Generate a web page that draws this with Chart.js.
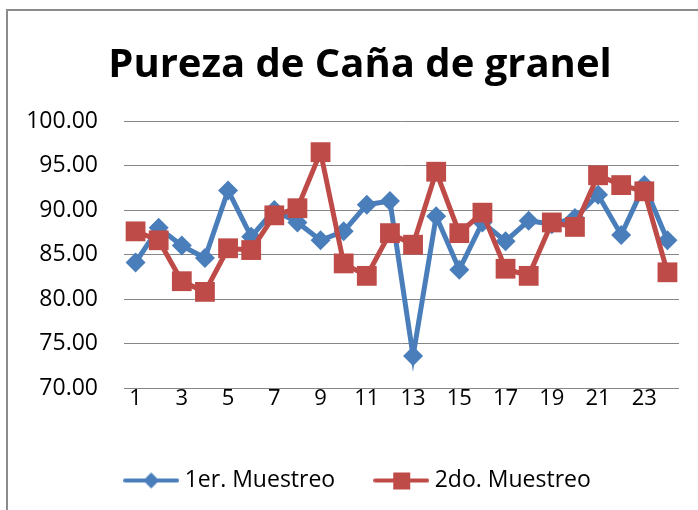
<!DOCTYPE html>
<html>
<head>
<meta charset="utf-8">
<script src="https://cdn.jsdelivr.net/npm/chart.js@4"></script>
<style>
  body { margin: 0; background: #fff; }
  #wrap { width: 698px; height: 510px; }
</style>
</head>
<body>
<div id="wrap"><canvas id="chart" width="698" height="510"></canvas></div>
<script>
const labels = ["1","2","3","4","5","6","7","8","9","10","11","12","13","14","15","16","17","18","19","20","21","22","23","24"];
const muestreo1 = [84.1, 88.0, 86.0, 84.6, 92.2, 87.0, 90.0, 88.6, 86.6, 87.6, 90.6, 91.0, 73.6, 89.3, 83.3, 88.6, 86.5, 88.8, 88.4, 89.1, 91.7, 87.2, 92.8, 86.6];
const muestreo2 = [87.6, 86.6, 82.0, 80.8, 85.7, 85.5, 89.4, 90.2, 96.5, 84.0, 82.6, 87.4, 86.1, 94.3, 87.4, 89.7, 83.4, 82.6, 88.6, 88.1, 93.9, 92.8, 92.1, 83.0];
const seriesNames = ["1er. Muestreo", "2do. Muestreo"];

const BLUE = "#4a7ebb";
const RED = "#be4b48";
const FONT = "'Open Sans', sans-serif";

// legend glyph: line with the marker in the middle
function legendGlyph(color, shape) {
  const c = document.createElement("canvas");
  c.width = 56;
  c.height = 22;
  const g = c.getContext("2d");
  g.strokeStyle = color;
  g.lineWidth = 4;
  g.lineCap = "round";
  g.beginPath();
  g.moveTo(2, 11);
  g.lineTo(54, 11);
  g.stroke();
  g.fillStyle = color;
  g.beginPath();
  if (shape === "diamond") {
    g.moveTo(28, 3); g.lineTo(36, 11); g.lineTo(28, 19); g.lineTo(20, 11);
  } else {
    g.rect(20, 3, 17, 17);
  }
  g.closePath();
  g.fill();
  return c;
}
const glyphs = [legendGlyph(BLUE, "diamond"), legendGlyph(RED, "square")];

const frame = {
  id: "frame",
  beforeDraw(chart) {
    const c = chart.ctx;
    c.save();
    c.fillStyle = "#fff";
    c.fillRect(0, 0, chart.width, chart.height);
    c.strokeStyle = "#8c8c8c";
    c.lineWidth = 2;
    c.beginPath();
    c.moveTo(7, 510);
    c.lineTo(7, 10);
    c.lineTo(698, 10);
    c.stroke();
    c.restore();
  }
};

new Chart(document.getElementById("chart"), {
  type: "line",
  data: {
    labels,
    datasets: [{
      label: seriesNames[0],
      data: muestreo1,
      borderColor: BLUE,
      backgroundColor: BLUE,
      borderWidth: 5,
      pointStyle: "rectRot",
      pointRadius: 10,
      pointBorderWidth: 0,
      tension: 0,
      order: 1
    }, {
      label: seriesNames[1],
      data: muestreo2,
      borderColor: RED,
      backgroundColor: RED,
      borderWidth: 5,
      pointStyle: "rect",
      pointRadius: 14,
      pointBorderWidth: 0,
      tension: 0,
      order: 0
    }]
  },
  options: {
    responsive: false,
    animation: false,
    layout: { padding: { left: 22, right: 0, top: 0, bottom: 8 } },
    plugins: {
      tooltip: { enabled: false },
      title: {
        display: true,
        text: "Pureza de Caña de granel",
        color: "#000",
        font: { family: FONT, size: 40, weight: "bold" },
        padding: { top: 42, bottom: 31 }
      },
      legend: {
        position: "bottom",
        labels: {
          color: "#000",
          font: { family: FONT, size: 23 },
          usePointStyle: true,
          pointStyleWidth: 44,
          padding: 44,
          generateLabels: () => seriesNames.map((name, i) => ({
            text: name,
            fillStyle: i ? RED : BLUE,
            strokeStyle: i ? RED : BLUE,
            lineWidth: 0,
            pointStyle: glyphs[i],
            datasetIndex: i,
            hidden: false
          }))
        }
      }
    },
    scales: {
      x: {
        offset: true,
        grid: { display: false, drawTicks: false },
        border: { display: false },
        ticks: {
          color: "#000",
          font: { family: FONT, size: 22 },
          padding: -2,
          autoSkip: false,
          maxRotation: 0,
          callback: function(v, i) { return i % 2 === 0 ? labels[i] : ""; }
        },
        afterFit: (s) => { s.height = 37; }
      },
      y: {
        min: 70,
        max: 100,
        grid: { color: "#868686", lineWidth: 1, drawTicks: false },
        border: { display: false },
        ticks: {
          stepSize: 5,
          color: "#000",
          font: { family: FONT, size: 23 },
          padding: 26,
          callback: (v) => v.toFixed(2)
        },
        afterFit: (s) => { s.width = 102; }
      },
      // empty right gutter so the title sits where the reference has it
      yRight: {
        type: "linear",
        position: "right",
        grid: { display: false, drawTicks: false },
        border: { display: false },
        ticks: { display: false },
        afterFit: (s) => { s.width = 19; }
      }
    }
  },
  plugins: [frame]
});
</script>
</body>
</html>
